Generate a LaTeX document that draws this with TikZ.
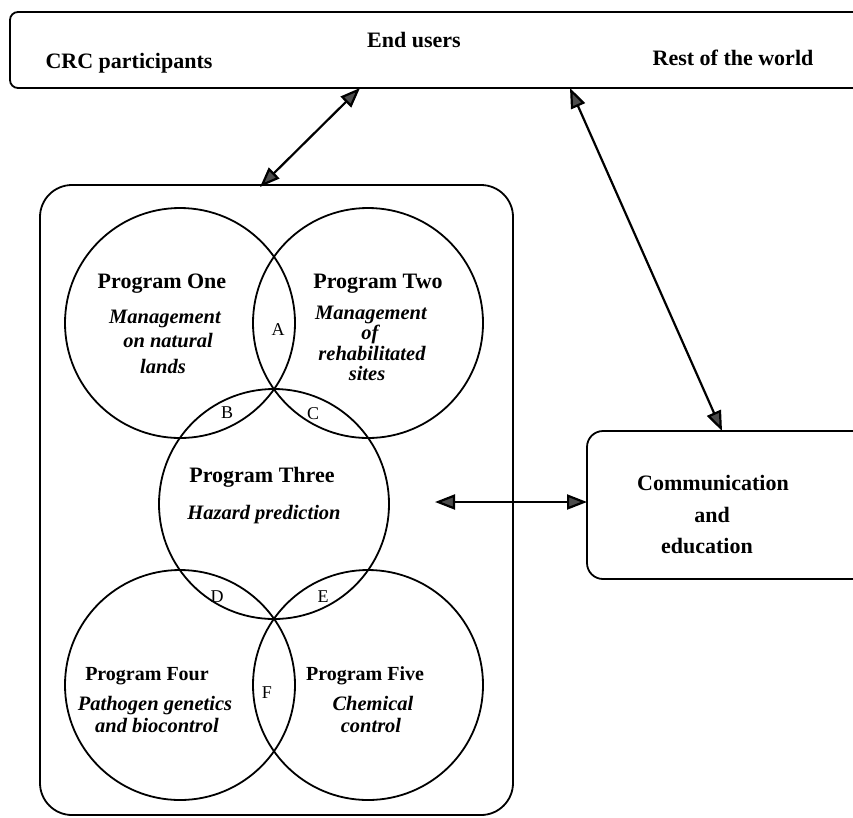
\documentclass[tikz,border=0pt]{standalone}
\usepackage{fontspec}
\setmainfont{Liberation Serif}
\usetikzlibrary{arrows.meta}
\begin{document}
\begin{tikzpicture}[x=1pt,y=-1pt,
  box/.style={draw, line width=1.8pt, rectangle},
  prog/.style={draw, circle, line width=1.8pt, minimum size=230pt, inner sep=0pt},
  dbl/.style={line width=2.2pt, {Triangle[length=20pt,width=15pt,fill=black!70]}-{Triangle[length=20pt,width=15pt,fill=black!70]}},
  ttl/.style={anchor=base, font=\fontsize{22}{24}\selectfont\bfseries, inner sep=0pt},
  ttlb/.style={anchor=base, font=\fontsize{20}{22}\selectfont\bfseries, inner sep=0pt},
  itx/.style={anchor=base, font=\fontsize{20.5}{22}\selectfont\itshape\bfseries, inner sep=0pt},
  lett/.style={anchor=base, font=\fontsize{18}{20}\selectfont, inner sep=0pt},
  toptxt/.style={anchor=base, font=\fontsize{22}{24}\selectfont\bfseries, inner sep=0pt}
]
\useasboundingbox (0,0) rectangle (853,817);
\fill[white] (0,0) rectangle (853,817);

% boxes
\node[box, rounded corners=8pt, minimum width=860pt, minimum height=76pt] (top) at (440,50) {};
\node[box, rounded corners=32pt, minimum width=473pt, minimum height=630pt] (big) at (276.5,500) {};
\node[box, rounded corners=16pt, minimum width=288pt, minimum height=148pt] (comm) at (731,505) {};

% top texts
\node[toptxt] (eu) at (414,47) {End users};
\node[toptxt] (crc) at (129,68) {CRC participants};
\node[toptxt] (rw) at (733,65) {Rest of the world};

% communication text
\node[toptxt] (c1) at (713,490) {Communication};
\node[toptxt] (c2) at (712,522) {and};
\node[toptxt] (c3) at (707,553) {education};

% circles
\node[prog] (p1) at (180,323) {};
\node[prog] (p2) at (368,323) {};
\node[prog] (p3) at (274,504) {};
\node[prog] (p4) at (180,685) {};
\node[prog] (p5) at (368,685) {};

% program one
\node[ttl] (t1) at (162,288) {Program One};
\node[itx] (t1a) at (165,323) {Management};
\node[itx] (t1b) at (168,347) {on natural};
\node[itx] (t1c) at (163,373) {lands};
% program two
\node[ttl] (t2) at (378,288) {Program Two};
\node[itx] (t2a) at (371,319) {Management};
\node[itx] (t2b) at (370,339) {of};
\node[itx] (t2c) at (372,360) {rehabilitated};
\node[itx] (t2d) at (367,380) {sites};
% program three
\node[ttl] (t3) at (262,482) {Program Three};
\node[itx] (t3a) at (264,519) {Hazard prediction};
% program four
\node[ttlb] (t4) at (147,680) {Program Four};
\node[itx] (t4a) at (155,710) {Pathogen genetics};
\node[itx] (t4b) at (157,732) {and biocontrol};
% program five
\node[ttlb] (t5) at (365,680) {Program Five};
\node[itx] (t5a) at (373,710) {Chemical};
\node[itx] (t5b) at (371,732) {control};

% letters
\node[lett] (lA) at (278,335) {A};
\node[lett] (lB) at (227,418) {B};
\node[lett] (lC) at (313,419) {C};
\node[lett] (lD) at (217,602) {D};
\node[lett] (lE) at (323,602) {E};
\node[lett] (lF) at (267,698) {F};

% connectors
\coordinate (a1) at (360,88);
\coordinate (b1) at (260,187);
\coordinate (a2) at (570,88);
\coordinate (b2) at (722,431);
\coordinate (h1) at (435,502);
\coordinate (h2) at (587,502);
\draw[dbl] (a1) -- (b1);
\draw[dbl] (a2) -- (b2);
\draw[dbl] (h1) -- (h2);
\end{tikzpicture}
\end{document}
